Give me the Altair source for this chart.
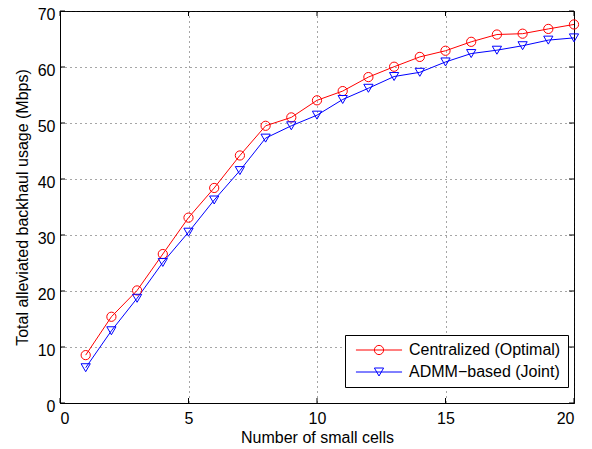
import altair as alt
import pandas as pd

cells = list(range(1, 21))
centralized = [8.55, 15.4, 20.1, 26.6, 33.1, 38.4, 44.2, 49.5, 51.0, 54.05,
               55.7, 58.2, 60.05, 61.8, 62.9, 64.5, 65.8, 65.95, 66.8, 67.6]
admm = [6.3, 12.9, 18.7, 25.1, 30.5, 36.25, 41.5, 47.3, 49.5, 51.4,
        54.2, 56.2, 58.3, 59.05, 60.9, 62.4, 63.0, 63.8, 64.8, 65.2]
series_names = ["Centralized (Optimal)", "ADMM\u2212based (Joint)"]
series_colors = ["#FF0000", "#0000FF"]
series_shapes = ["circle", "triangle-down"]
x_ticks = [0, 5, 10, 15, 20]
y_ticks = [0, 10, 20, 30, 40, 50, 60, 70]

W, H = 514, 392
FONT = "Liberation Sans"
FS = 16

df = pd.DataFrame({
    "cells": cells * 2,
    "value": centralized + admm,
    "series": [series_names[0]] * len(cells) + [series_names[1]] * len(cells),
})
xt = pd.DataFrame({"t": x_ticks})
yt = pd.DataFrame({"t": y_ticks})

xscale = alt.Scale(domain=[0, 20], nice=False, zero=False)
yscale = alt.Scale(domain=[0, 70], nice=False, zero=False)
cscale = alt.Scale(domain=series_names, range=series_colors)
sscale = alt.Scale(domain=series_names, range=series_shapes)

x_enc = alt.X("cells:Q", scale=xscale, title="Number of small cells",
              axis=alt.Axis(values=x_ticks, grid=True, ticks=False, labelPadding=7,
                            titlePadding=3))
y_enc = alt.Y("value:Q", scale=yscale, title="Total alleviated backhaul usage (Mbps)",
              axis=alt.Axis(values=y_ticks, grid=True, ticks=False, labelPadding=5,
                            labelOffset=3, titlePadding=7))

LEG_X, LEG_Y = 285, 324
SYM = 85
common = dict(title=None, orient="none", legendX=LEG_X, legendY=LEG_Y,
              symbolSize=SYM, symbolStrokeWidth=1, symbolOffset=19,
              labelOffset=22, padding=7, rowPadding=6,
              labelFontSize=FS, labelFont=FONT, labelLimit=400)

line_legend = alt.Legend(symbolType="M-5,0H5", symbolFillColor="transparent",
                         strokeColor="black", fillColor="white",
                         labelColor="black", **common)
point_legend = alt.Legend(symbolFillColor="transparent", labelOpacity=0, **common)

lines = alt.Chart(df).mark_line(strokeWidth=1).encode(
    x=x_enc, y=y_enc,
    color=alt.Color("series:N", scale=cscale, legend=line_legend),
    order="cells:Q",
)

points = alt.Chart(df).mark_point(filled=False, strokeWidth=1, size=SYM, opacity=1).encode(
    x=alt.X("cells:Q", scale=xscale),
    y=alt.Y("value:Q", scale=yscale),
    color=alt.Color("series:N", scale=cscale, legend=point_legend),
    shape=alt.Shape("series:N", scale=sscale, legend=point_legend),
)

tick_len = 5
bottom_ticks = alt.Chart(xt).mark_rule(color="black", strokeWidth=1).encode(
    x=alt.X("t:Q", scale=xscale), y=alt.value(H), y2=alt.value(H - tick_len))
top_ticks = alt.Chart(xt).mark_rule(color="black", strokeWidth=1).encode(
    x=alt.X("t:Q", scale=xscale), y=alt.value(0), y2=alt.value(tick_len))
left_ticks = alt.Chart(yt).mark_rule(color="black", strokeWidth=1).encode(
    y=alt.Y("t:Q", scale=yscale), x=alt.value(0), x2=alt.value(tick_len))
right_ticks = alt.Chart(yt).mark_rule(color="black", strokeWidth=1).encode(
    y=alt.Y("t:Q", scale=yscale), x=alt.value(W), x2=alt.value(W - tick_len))

chart = alt.layer(
    bottom_ticks, top_ticks, left_ticks, right_ticks, lines, points
).resolve_legend(color="independent", shape="independent").properties(
    width=W, height=H,
    autosize=alt.AutoSizeParams(type="none"),
    padding={"left": 52, "top": 3, "right": 10, "bottom": 46},
).configure(
    background="white",
).configure_view(
    stroke="black", strokeWidth=1,
).configure_axis(
    domainColor="black", domainWidth=1,
    gridColor="#222222", gridDash=[1, 4], gridWidth=1, gridOpacity=0.8,
    labelFont=FONT, labelFontSize=FS, labelColor="black",
    titleFont=FONT, titleFontSize=FS, titleColor="black", titleFontWeight="normal",
)

chart.save("out.html", embed_options={"renderer": "svg", "actions": False})
